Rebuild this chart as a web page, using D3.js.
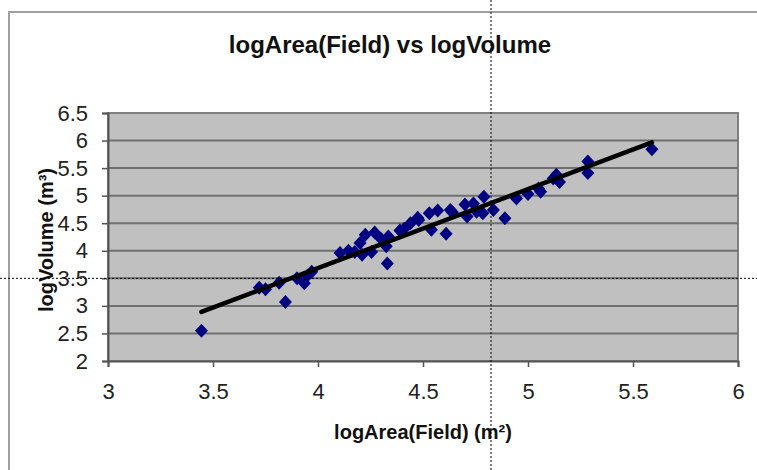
<!DOCTYPE html>
<html>
<head>
<meta charset="utf-8">
<script src="https://cdn.jsdelivr.net/npm/d3@7"></script>
<style>
html,body{margin:0;padding:0;background:#fff;}
svg{display:block;font-family:"Liberation Sans",Arial,sans-serif;}
</style>
</head>
<body>
<svg id="chart" width="757" height="470"></svg>
<script>
const titleText = "logArea(Field) vs logVolume";
const xLabel = "logArea(Field) (m²)";
const yLabel = "logVolume (m³)";
const xTicks = [3, 3.5, 4, 4.5, 5, 5.5, 6];
const yTicks = [2, 2.5, 3, 3.5, 4, 4.5, 5, 5.5, 6, 6.5];
const logArea = [3.445,3.72,3.75,3.815,3.845,3.90,3.935,3.97,3.95,4.105,4.145,4.175,4.20,4.21,4.225,4.255,4.27,4.30,4.325,4.33,4.335,4.39,4.41,4.44,4.475,4.48,4.53,4.54,4.57,4.61,4.63,4.64,4.70,4.71,4.74,4.755,4.79,4.785,4.835,4.89,4.945,5.00,5.05,5.06,5.12,5.135,5.15,5.285,5.285,5.59];
const logVolume = [2.55,3.33,3.30,3.42,3.07,3.50,3.41,3.62,3.55,3.96,4.00,3.98,4.14,3.93,4.29,3.98,4.33,4.22,4.08,3.77,4.26,4.37,4.40,4.50,4.60,4.56,4.68,4.38,4.73,4.31,4.74,4.70,4.84,4.62,4.86,4.71,4.98,4.68,4.74,4.59,4.95,5.03,5.13,5.07,5.31,5.38,5.25,5.62,5.41,5.84];
const trendX = [3.445, 5.59];
const trendSlope = 1.434;
const trendIntercept = -2.05;

const svg = d3.select("#chart");
const x = d3.scaleLinear().domain([3, 6]).range([108, 738]);
const y = d3.scaleLinear().domain([2, 6.5]).range([361, 113]);

// outer chart border
svg.append("rect").attr("x", 9).attr("y", 12).attr("width", 800).attr("height", 500)
  .attr("fill", "#fff").attr("stroke", "#a0a0a0").attr("stroke-width", 2);

// plot area
svg.append("rect").attr("x", x(3)).attr("y", y(6.5)).attr("width", x(6) - x(3)).attr("height", y(2) - y(6.5))
  .attr("fill", "#c0c0c0").attr("stroke", "#808080").attr("stroke-width", 2);

// gridlines
svg.append("g").selectAll("line").data(yTicks.slice(1, -1)).join("line")
  .attr("x1", x(3)).attr("x2", x(6)).attr("y1", d => y(d)).attr("y2", d => y(d))
  .attr("stroke", "#707070").attr("stroke-width", 2);

// axes
const xAxis = svg.append("g").attr("transform", `translate(0,${y(2)})`)
  .call(d3.axisBottom(x).tickValues(xTicks).tickFormat(d3.format("")).tickSize(6).tickPadding(16));
const yAxis = svg.append("g").attr("transform", `translate(${x(3)},0)`)
  .call(d3.axisLeft(y).tickValues(yTicks).tickFormat(d3.format("")).tickSize(6).tickPadding(14));
[xAxis, yAxis].forEach(a => {
  a.select(".domain").attr("stroke", "#555").attr("stroke-width", 2);
  a.selectAll(".tick line").attr("stroke", "#555").attr("stroke-width", 1.5);
  a.selectAll(".tick text").attr("fill", "#222").style("font-size", "22px")
    .style("font-family", "'Liberation Sans Narrow', 'Arial Narrow', sans-serif");
});

// data points
const pts = logArea.map((v, i) => [v, logVolume[i]]);
svg.append("g").selectAll("path").data(pts).join("path")
  .attr("transform", d => `translate(${x(d[0])},${y(d[1])})`)
  .attr("d", "M0,-7L6.5,0L0,7L-6.5,0Z")
  .attr("fill", "#000080");

// trend line
svg.append("line")
  .attr("x1", x(trendX[0])).attr("y1", y(trendSlope * trendX[0] + trendIntercept))
  .attr("x2", x(trendX[1])).attr("y2", y(trendSlope * trendX[1] + trendIntercept))
  .attr("stroke", "#000").attr("stroke-width", 4.5).attr("stroke-linecap", "round");

// titles
svg.append("text").attr("x", 390).attr("y", 53).attr("text-anchor", "middle")
  .style("font-size", "24px").style("font-weight", "bold").attr("fill", "#111").text(titleText);
svg.append("text").attr("x", 423).attr("y", 439).attr("text-anchor", "middle")
  .style("font-size", "20px").style("font-weight", "bold").attr("fill", "#111").text(xLabel);
svg.append("text").attr("transform", "translate(53,240) rotate(-90)").attr("text-anchor", "middle")
  .style("font-size", "20px").style("font-weight", "bold").attr("fill", "#111").text(yLabel);

// dotted crosshair lines
svg.append("line").attr("x1", 491).attr("x2", 491).attr("y1", 0).attr("y2", 470)
  .attr("stroke", "#000").attr("stroke-width", 1).attr("stroke-dasharray", "2,2");
svg.append("line").attr("x1", 0).attr("x2", 757).attr("y1", y(3.5)).attr("y2", y(3.5))
  .attr("stroke", "#000").attr("stroke-width", 1).attr("stroke-dasharray", "2,2");
</script>
</body>
</html>
